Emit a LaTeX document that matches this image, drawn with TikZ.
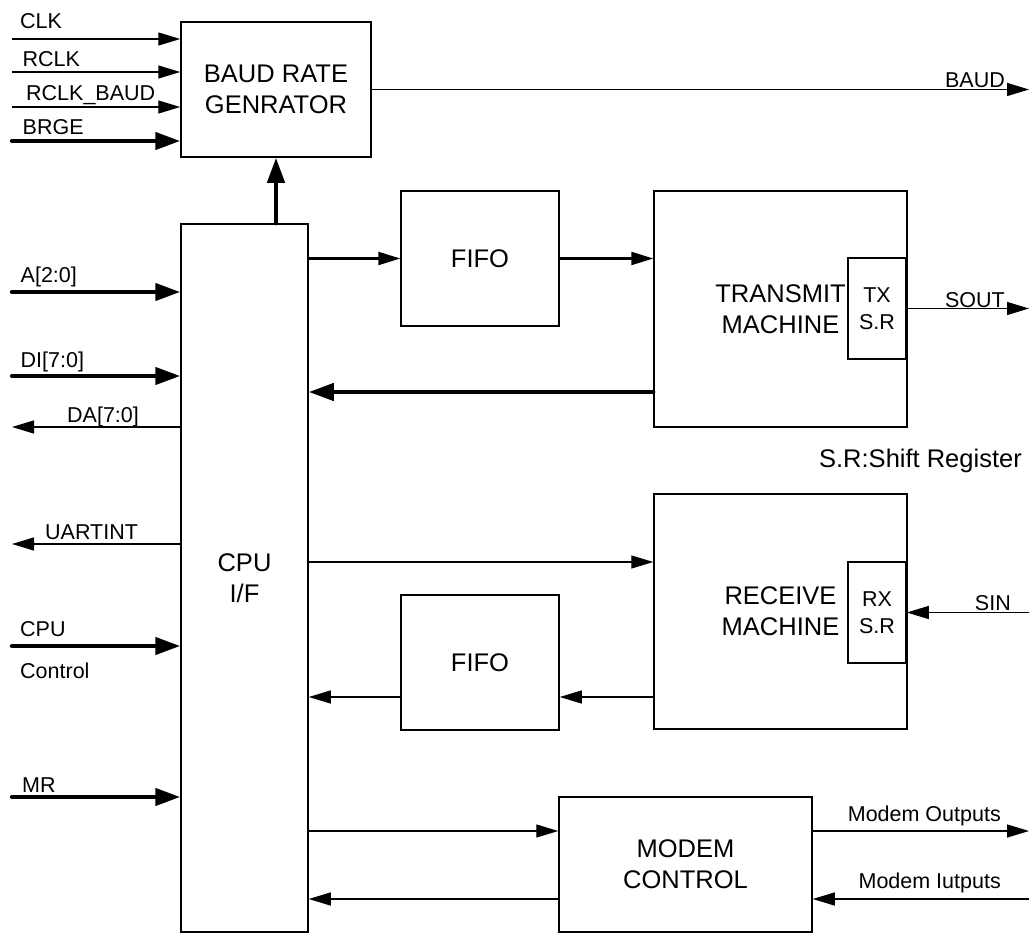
\documentclass[tikz,border=0pt]{standalone}
\usepackage{fontspec}
\setmainfont{Liberation Sans}
\usetikzlibrary{arrows.meta,positioning}

\begin{document}
\begin{tikzpicture}[x=1pt,y=-1pt,
    blk/.style={draw,line width=1.5pt,align=center,inner sep=0pt,font=\fontsize{25.5}{31}\selectfont},
    srbox/.style={draw,line width=1.5pt,align=center,inner sep=0pt,minimum width=58pt,minimum height=101pt,font=\fontsize{21.5}{27}\selectfont},
    lbl/.style={inner sep=0pt,font=\fontsize{21.5}{26}\selectfont},
    sig/.style={line width=1.3pt,-{Triangle[length=22pt,width=13pt]}},
    bus/.style={line width=4.3pt,line cap=round,-{Triangle[length=25pt,width=17pt]}}]
    \useasboundingbox (0,0) rectangle (1029,934);
    % blocks
    \node[blk,minimum width=190pt,minimum height=135pt] (baud) at (276,89.5) {BAUD RATE\\GENRATOR};
    \node[blk,minimum width=127pt,minimum height=708pt] (cpu) at (244.5,578) {CPU\\I/F};
    \node[blk,minimum width=158pt,minimum height=135pt] (fifo1) at (480,258.5) {FIFO};
    \node[blk,minimum width=253pt,minimum height=236pt] (tx) at (780.5,309) {TRANSMIT\\MACHINE};
    \node[srbox] (txsr) at (877,308.5) {TX\\S.R};
    \node[blk,minimum width=253pt,minimum height=235pt] (rx) at (780.5,611.5) {RECEIVE\\MACHINE};
    \node[srbox] (rxsr) at (877,612.5) {RX\\S.R};
    \node[blk,minimum width=158pt,minimum height=135pt] (fifo2) at (480,662.5) {FIFO};
    \node[blk,minimum width=253pt,minimum height=135pt] (modem) at (685.5,864.5) {MODEM\\CONTROL};
    \node[inner sep=0pt,anchor=base east,font=\fontsize{25.5}{31}\selectfont] (srnote) at (1022,467) {S.R:Shift Register};

    % baud rate generator inputs
    \coordinate (clk) at (12,39);
    \coordinate (rclk) at (12,72);
    \coordinate (rclkb) at (12,107);
    \coordinate (brge) at (12,141);
    \draw[sig] (clk) -- (clk -| baud.west);
    \draw[sig] (rclk) -- (rclk -| baud.west);
    \draw[sig] (rclkb) -- (rclkb -| baud.west);
    \draw[bus] (brge) -- (brge -| baud.west);
    \node[lbl,anchor=base west] (clkl) at (20,29) {CLK};
    \node[lbl,anchor=base west] (rclkl) at (22.5,66.5) {RCLK};
    \node[lbl,anchor=base west] (rclkbl) at (26,100) {RCLK\_BAUD};
    \node[lbl,anchor=base west] (brgel) at (22.5,134) {BRGE};

    % cpu side signals
    \coordinate (addr) at (12,292);
    \coordinate (din) at (12,376);
    \coordinate (dout) at (12,427);
    \coordinate (uint) at (12,544);
    \coordinate (cctl) at (12,646);
    \coordinate (mr) at (12,797);
    \draw[bus] (addr) -- (addr -| cpu.west);
    \draw[bus] (din) -- (din -| cpu.west);
    \draw[sig] (dout -| cpu.west) -- (dout);
    \draw[sig] (uint -| cpu.west) -- (uint);
    \draw[bus] (cctl) -- (cctl -| cpu.west);
    \draw[bus] (mr) -- (mr -| cpu.west);
    \node[lbl,anchor=base west] (addrl) at (20.5,282) {A[2:0]};
    \node[lbl,anchor=base west] (dinl) at (20.5,367) {DI[7:0]};
    \node[lbl,anchor=base west] (doutl) at (67,422) {DA[7:0]};
    \node[lbl,anchor=base west] (uintl) at (45,539) {UARTINT};
    \node[lbl,anchor=base west] (cctll) at (20,636) {CPU};
    \node[lbl,anchor=base west] (cctl2) at (20,678) {Control};
    \node[lbl,anchor=base west] (mrl) at (22,792) {MR};

    % internal paths
    \draw[bus] (baud.south |- cpu.north) -- (baud.south);
    \draw[sig,line width=2.2pt] (fifo1.west -| cpu.east) -- (fifo1.west);
    \draw[sig,line width=2.2pt] (fifo1.east) -- (fifo1.east -| tx.west);
    \coordinate (txret) at ([yshift=-83pt]tx.west);
    \draw[bus] (txret) -- (txret -| cpu.east);
    \coordinate (rxin) at ([yshift=49.5pt]rx.west);
    \draw[sig] (rxin -| cpu.east) -- (rxin);
    \coordinate (rxout) at ([yshift=-34.5pt]fifo2.east);
    \draw[sig] (rxout -| rx.west) -- (rxout);
    \coordinate (ffout) at ([yshift=-34.5pt]fifo2.west);
    \draw[sig] (ffout) -- (ffout -| cpu.east);
    \coordinate (mdin) at ([yshift=33.5pt]modem.west);
    \draw[sig] (mdin -| cpu.east) -- (mdin);
    \coordinate (mdret) at ([yshift=-34.5pt]modem.west);
    \draw[sig] (mdret) -- (mdret -| cpu.east);

    % outputs on the right
    \coordinate (baudo) at (1029,89.5);
    \coordinate (sout) at (1029,308.5);
    \coordinate (sin) at (1029,612.5);
    \coordinate (mdo) at ([yshift=33.5pt]modem.east -| 1029,0);
    \coordinate (mdi) at ([yshift=-34.5pt]modem.east -| 1029,0);
    \draw[sig] (baud.east) -- (baudo);
    \draw[sig] (txsr.east) -- (sout);
    \draw[sig] (sin) -- (rxsr.east);
    \draw[sig] (mdo -| modem.east) -- (mdo);
    \draw[sig] (mdi) -- (mdi -| modem.east);
    \node[lbl,anchor=base east] (baudl) at (1005,88) {BAUD};
    \node[lbl,anchor=base east] (soutl) at (1005,307) {SOUT};
    \node[lbl,anchor=base east] (sinl) at (1011,610) {SIN};
    \node[lbl,anchor=base east] (mdol) at (1001,821) {Modem Outputs};
    \node[lbl,anchor=base east] (mdil) at (1001,888) {Modem Iutputs};
\end{tikzpicture}
\end{document}
